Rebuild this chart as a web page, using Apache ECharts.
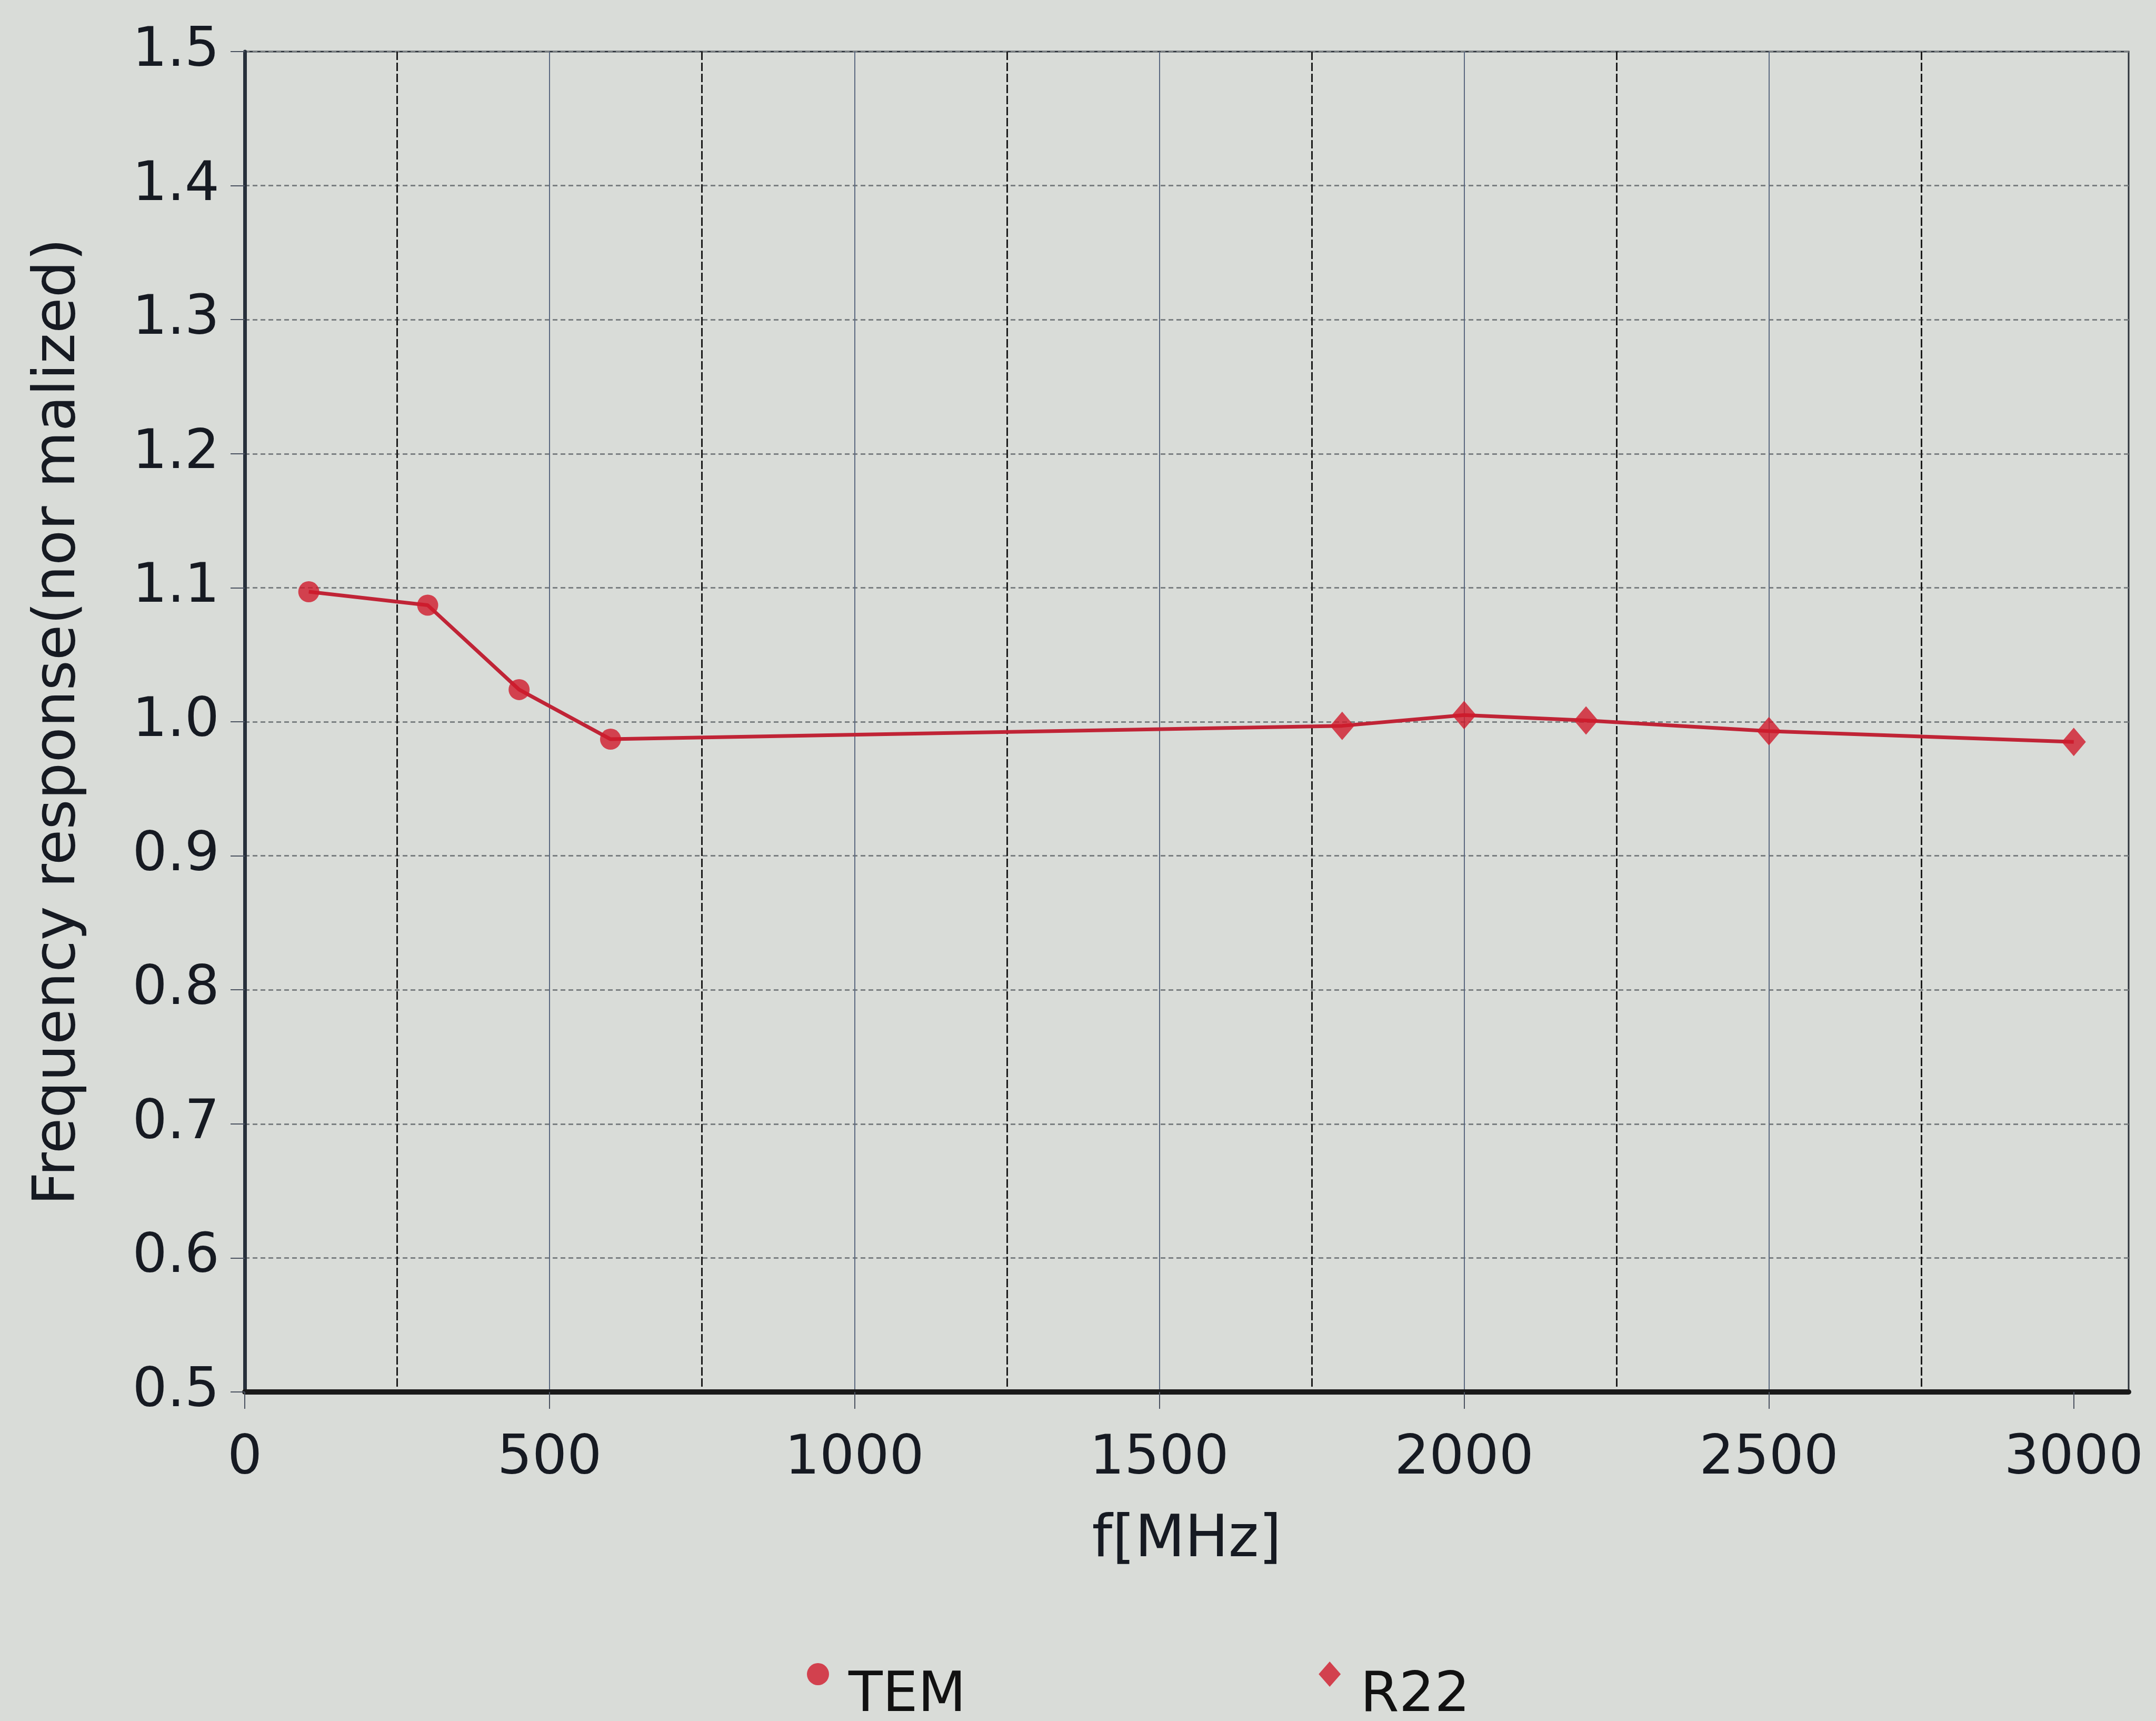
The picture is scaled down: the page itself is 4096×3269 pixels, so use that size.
<!DOCTYPE html>
<html><head><meta charset="utf-8">
<script src="https://cdn.jsdelivr.net/npm/echarts@6/dist/echarts.min.js"></script>
<style>html,body{margin:0;padding:0;background:#d9dcd8}#c{width:4096px;height:3269px}</style>
</head><body><div id="c"></div>
<script>
// ---- data ----
const seriesNames = ['TEM', 'R22'];
const temFreq = [105, 300, 450, 600];
const temValues = [1.097, 1.087, 1.024, 0.987];
const r22Freq = [1800, 2000, 2200, 2500, 3000];
const r22Values = [0.997, 1.005, 1.001, 0.993, 0.985];
const xTickValues = [0, 500, 1000, 1500, 2000, 2500, 3000];
const yTickLabels = ['0.5', '0.6', '0.7', '0.8', '0.9', '1.0', '1.1', '1.2', '1.3', '1.4', '1.5'];
const xAxisName = 'f[MHz]';
const yAxisName = 'Frequency response(nor malized)';

const temData = temFreq.map((f, i) => [f, temValues[i]]);
const r22Data = r22Freq.map((f, i) => [f, r22Values[i]]);
const lineData = temData.concat(r22Data);

const FONT = 'DejaVu Sans';
const TXT = '#161a22';
const X_MAX = 3090;

const chart = echarts.init(document.getElementById('c'), null, { renderer: 'canvas' });
chart.setOption({
  backgroundColor: '#d9dcd8',
  animation: false,
  grid: {
    left: 465, right: 52, top: 98, bottom: 625,
    show: true, borderColor: '#2c323a', borderWidth: 3, backgroundColor: 'transparent'
  },
  legend: {
    left: 1533, top: 3156, padding: 0,
    itemWidth: 42, itemHeight: 48, itemGap: 670,
    data: [{ name: seriesNames[0], icon: 'circle' }, { name: seriesNames[1], icon: 'diamond' }],
    formatter: '{t|{name}}',
    textStyle: { fontFamily: FONT, fontSize: 106, color: '#111', padding: [0, 0, 0, 32],
      rich: { t: { fontFamily: FONT, fontSize: 106, color: '#111', lineHeight: 190, verticalAlign: 'bottom' } } }
  },
  xAxis: [{
    type: 'value', min: 0, max: X_MAX, interval: 500,
    name: xAxisName, nameLocation: 'middle', nameGap: 228,
    nameTextStyle: { fontFamily: FONT, fontSize: 110, color: TXT },
    axisLine: { show: true, onZero: false, lineStyle: { color: '#1a1a1a', width: 10 } },
    axisTick: { show: true, inside: false, length: 32, customValues: xTickValues, lineStyle: { color: '#4a5260', width: 2 } },
    axisLabel: { show: true, margin: 76, fontFamily: FONT, fontSize: 104, color: TXT,
      customValues: xTickValues,
      formatter: v => (v % 500 === 0 ? String(v) : '') },
    splitLine: { show: true, showMinLine: false, showMaxLine: false, lineStyle: { color: '#5a6880', width: 2, type: 'solid' } }
  }, {
    type: 'value', min: 0, max: X_MAX, interval: 250, position: 'top',
    axisLine: { show: false }, axisTick: { show: false }, axisLabel: { show: false },
    splitLine: { show: true, showMinLine: false, showMaxLine: false,
      lineStyle: { color: ['#1c1c1c', 'rgba(0,0,0,0)'], width: 3, type: [16, 5] } }
  }],
  yAxis: {
    type: 'value', min: 0.5, max: 1.5, interval: 0.1,
    name: yAxisName, nameLocation: 'middle', nameGap: 298, nameRotate: 90,
    nameTextStyle: { fontFamily: FONT, fontSize: 110, color: TXT },
    axisLine: { show: true, lineStyle: { color: '#27303b', width: 7 } },
    axisTick: { show: true, inside: false, length: 27, lineStyle: { color: '#4a5260', width: 2 } },
    axisLabel: { margin: 48, fontFamily: FONT, fontSize: 104, color: TXT,
      formatter: v => yTickLabels[Math.round((v - 0.5) * 10)] },
    splitLine: { show: true, lineStyle: { color: '#7b8082', width: 3, type: [9, 6] } }
  },
  series: [{
    name: '_line', type: 'line', data: lineData, showSymbol: false, symbol: 'none',
    lineStyle: { color: '#c02436', width: 7 }, z: 3, silent: true
  }, {
    name: seriesNames[0], type: 'scatter', data: temData, symbol: 'circle', symbolSize: 40,
    itemStyle: { color: '#d01a2c' }, z: 4
  }, {
    name: seriesNames[1], type: 'scatter', data: r22Data, symbol: 'diamond', symbolSize: [46, 54],
    itemStyle: { color: '#d01a2c' }, z: 4
  }]
});
</script></body></html>
